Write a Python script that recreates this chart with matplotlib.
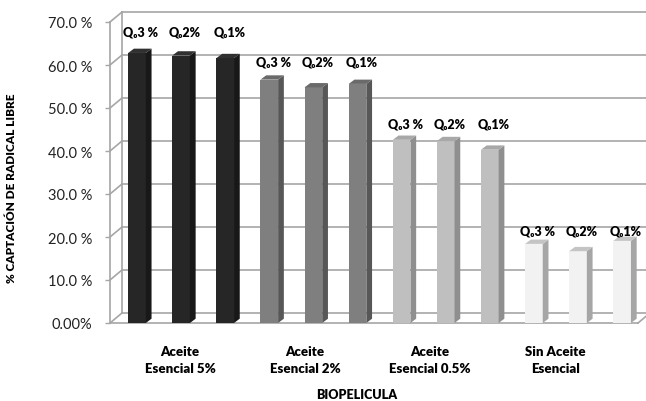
import matplotlib
matplotlib.use('Agg')
import matplotlib.pyplot as plt
from matplotlib.patches import Polygon
from matplotlib.lines import Line2D
import matplotlib.transforms as mtrans

plt.rcParams['font.family'] = ['Lato', 'DejaVu Sans']

# ---------------- data ----------------
groups = ['Aceite\nEsencial 5%', 'Aceite\nEsencial 2%',
          'Aceite\nEsencial 0.5%', 'Sin Aceite\nEsencial']
bar_labels = ['Q₀3 %', 'Q₀2%', 'Q₀1%']
values_5 = [62.8, 62.2, 61.6]
values_2 = [56.6, 54.8, 55.6]
values_05 = [42.6, 42.3, 40.3]
values_0 = [18.4, 16.7, 19.1]
values = [values_5, values_2, values_05, values_0]
yticks = [0, 10, 20, 30, 40, 50, 60, 70]
ytick_labels = ['0.00%', '10.0 %', '20.0 %', '30.0 %', '40.0 %',
                '50.0 %', '60.0 %', '70.0 %']
x_title = 'BIOPELICULA'
y_title = '% CAPTACIÓN DE RADICAL LIBRE'

# ---------------- style ----------------
front_colors = ['#262626', '#7f7f7f', '#bfbfbf', '#f2f2f2']
side_colors = ['#181818', '#575757', '#8f8f8f', '#a6a6a6']
top_colors = ['#303030', '#6a6a6a', '#a8a8a8', '#c4c4c4']
label_offsets = [4.9, 4.3, 3.7, 2.5]   # label height above group max
grid_color = '#a6a6a6'
W, H = 646, 402
DEPTH_PX = (12, 10)       # wall depth in pixels
BAR_W = 0.4
BAR_DX, BAR_DY = 0.13, 1.0

fig = plt.figure(figsize=(W / 100, H / 100), dpi=100)
ax = fig.add_axes([110 / W, 78 / H, 528 / W, 301 / H])
xl, xr = -0.612, 11.36
ax.set_xlim(xl, xr)
ax.set_ylim(0, 70)
for s in ax.spines.values():
    s.set_visible(False)
ax.patch.set_alpha(0)

off = mtrans.offset_copy(ax.transData, fig=fig, x=DEPTH_PX[0], y=DEPTH_PX[1], units='dots')
ident = mtrans.IdentityTransform()

def diag(x, y):
    p0 = ax.transData.transform((x, y))
    fig.add_artist(Line2D([p0[0], p0[0] + DEPTH_PX[0]], [p0[1], p0[1] + DEPTH_PX[1]],
                          transform=ident, color=grid_color, lw=1.2, zorder=0))

# back-wall gridlines + side wall diagonals
for t in yticks:
    ax.plot([xl, xr + 1], [t, t], transform=off, color=grid_color, lw=1.2,
            clip_on=False, zorder=0)
    diag(xl, t)
# back corner vertical, front vertical, floor front line, right floor diagonal
ax.plot([xl, xl], [0, 70], transform=off, color=grid_color, lw=1.2, clip_on=False, zorder=0)
ax.plot([xl, xl], [0, 70], color=grid_color, lw=1.2, clip_on=False, zorder=0.5)
ax.plot([xl, xr], [0, 0], color=grid_color, lw=1.2, clip_on=False, zorder=0.5)
diag(xr, 0)

# bars
for g, vals in enumerate(values):
    xs = [g * 3 + j for j in range(len(vals))]
    ax.bar(xs, vals, width=BAR_W, color=front_colors[g], zorder=3, linewidth=0)
    for x, v in zip(xs, vals):
        r = x + BAR_W / 2
        l = x - BAR_W / 2
        ax.add_patch(Polygon([(r, 0), (r + BAR_DX, BAR_DY), (r + BAR_DX, v + BAR_DY), (r, v)],
                             closed=True, facecolor=side_colors[g], edgecolor='none', zorder=3))
        ax.add_patch(Polygon([(l, v), (l + BAR_DX, v + BAR_DY), (r + BAR_DX, v + BAR_DY), (r, v)],
                             closed=True, facecolor=top_colors[g], edgecolor='none', zorder=3))
    ly = max(vals) + label_offsets[g]
    for x, lab in zip(xs, bar_labels):
        ax.text(x + 0.09, ly, lab, ha='center', va='center', fontsize=9,
                fontweight='heavy', color='#000000', zorder=5, clip_on=False)

# axes ticks and labels
ax.set_yticks(yticks)
ax.set_yticklabels(ytick_labels)
ax.tick_params(axis='y', length=3.6, width=1, color=grid_color, pad=9,
               labelsize=10.5, labelcolor='#222222')
tick_pos = [0.975, 3.81, 6.64, 9.48]
ax.set_xticks(tick_pos)
ax.set_xticklabels(groups, fontsize=9.5, fontweight='heavy', linespacing=1.45,
                   color='#000000')
ax.tick_params(axis='x', length=0, pad=16)

fig.text(357 / W, 1 - 395 / H, x_title, ha='center', va='center',
         fontsize=9, fontweight='heavy', color='#000000')
fig.text(12 / W, 1 - 188 / H, y_title, ha='center', va='center', rotation=90,
         fontsize=8.5, fontweight='heavy', color='#000000')

fig.savefig('out.png', dpi=100)
